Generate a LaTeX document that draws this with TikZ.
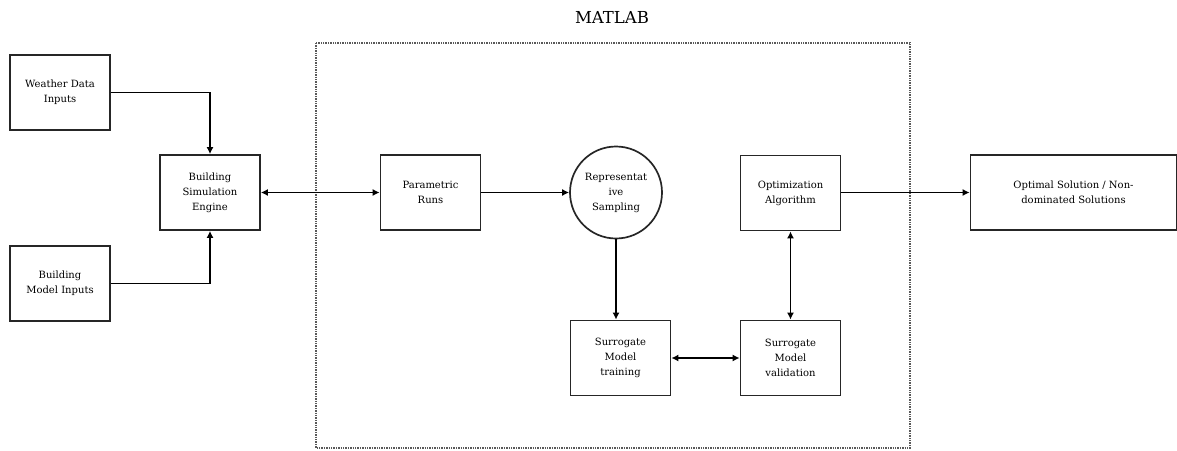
\documentclass[tikz,border=0pt]{standalone}
\usepackage{fontspec}
\setmainfont{DejaVu Serif}
\usetikzlibrary{arrows.meta}
\begin{document}
\begin{tikzpicture}[x=1pt,y=-1pt,
  box/.style={draw, line width=1.7pt, draw=black!85, minimum width=100pt, minimum height=75pt, align=center, inner sep=2pt, font=\fontsize{10}{15}\selectfont},
  circ/.style={draw, line width=1.7pt, draw=black!85, circle, minimum size=92pt, align=center, inner sep=0pt, font=\fontsize{10}{15}\selectfont},
  arr/.style={line width=1.7pt, -{Latex[length=7pt,width=7pt]}},
  darr/.style={line width=1.7pt, {Latex[length=7pt,width=7pt]}-{Latex[length=7pt,width=7pt]}}]
\useasboundingbox (0,0) rectangle (1177,450);
\draw[line width=1.4pt, densely dotted, gray!70!black] (316,43) rectangle (910,448);
\node[font=\fontsize{16.5}{18}\selectfont] (title) at (612,17) {MATLAB};
\node[box] (weather) at (60,92.5) {Weather Data\\Inputs};
\node[box] (model) at (60,283.5) {Building\\Model Inputs};
\node[box] (bse) at (210,192.5) {Building\\Simulation\\Engine};
\node[box] (param) at (430.5,192.5) {Parametric\\Runs};
\node[circ] (samp) at (616,192.5) {Representat\\ive\\Sampling};
\node[box] (opt) at (790.5,193) {Optimization\\Algorithm};
\node[box] (train) at (620.5,358) {Surrogate\\Model\\training};
\node[box] (valid) at (790.5,358) {Surrogate\\Model\\validation};
\node[box, minimum width=206pt] (sol) at (1073.5,192.5) {Optimal Solution / Non-\\dominated Solutions};
\draw[arr] (weather.east) -| (bse.north);
\draw[arr] (model.east) -| (bse.south);
\draw[darr] (bse.east) -- (param.west);
\draw[arr] (param.east) -- (samp.west);
\draw[arr] (samp.south) -- (samp.south |- train.north);
\draw[darr] (train.east) -- (valid.west);
\draw[darr] (opt.south) -- (valid.north);
\draw[arr] (opt.east |- sol.west) -- (sol.west);
\end{tikzpicture}
\end{document}
